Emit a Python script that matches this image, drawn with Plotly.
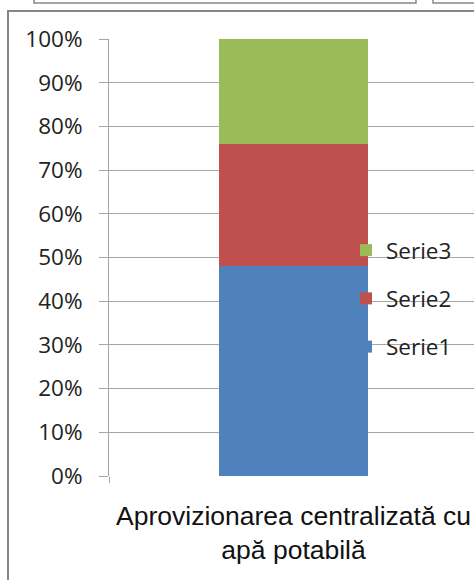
import plotly.graph_objects as go

# data
categories = ["Aprovizionarea centralizată cu<br>apă potabilă"]
serie1 = [0.48]
serie2 = [0.28]
serie3 = [0.24]

series_names = ["Serie1", "Serie2", "Serie3"]
series_values = [serie1, serie2, serie3]
colors = ["#4F81BD", "#C0504D", "#9BBB59"]

tick_vals = [i / 10 for i in range(11)]
tick_text = [f"{i * 10}%" for i in range(11)]

FONT = "Open Sans"
LABEL_FONT = "Liberation Sans"
W, H = 474, 580
L, R, T, B = 109, 0, 39, 104


def px_x(p):
    return (p - L) / (W - L - R)


def px_y(p):
    return (H - B - p) / (H - B - T)


fig = go.Figure()
for i, (name, vals) in enumerate(zip(series_names, series_values)):
    fig.add_trace(go.Bar(
        x=categories, y=vals, name=name,
        marker=dict(color=colors[i], line=dict(width=0)),
        legendgroup=name, legendrank=len(series_names) - i,
    ))

fig.update_layout(
    width=W, height=H,
    margin=dict(l=L, r=R, t=T, b=B),
    barmode="stack", bargap=0.596,
    paper_bgcolor="white", plot_bgcolor="white",
    font=dict(family=FONT, size=22.5, color="#222222"),
    showlegend=True,
    legend=dict(
        x=px_x(346), y=px_y(229), xanchor="left", yanchor="top",
        bgcolor="rgba(0,0,0,0)", traceorder="grouped",
        tracegroupgap=16, font=dict(size=22.5, family=FONT, color="#222222"),
    ),
    xaxis=dict(
        range=[-0.5, 0.489], showgrid=False, showline=False,
        ticks="outside", tickson="boundaries", ticklen=6, tickcolor="#a6a6a6",
        ticklabelstandoff=21,
        tickfont=dict(size=26.5, family=LABEL_FONT, color="#111111"),
        fixedrange=True,
    ),
    yaxis=dict(
        range=[0, 1], tickvals=tick_vals, ticktext=tick_text,
        showgrid=True, gridcolor="#a6a6a6", gridwidth=1,
        showline=True, linecolor="#a6a6a6", linewidth=1,
        ticks="outside", ticklen=9, tickcolor="#a6a6a6",
        ticklabelstandoff=12,
        tickfont=dict(size=22.5, family=FONT, color="#222222"),
        zeroline=False,
    ),
)

# outer chart border and neighbouring chart frames
fig.add_shape(type="rect", xref="paper", yref="paper",
              x0=px_x(8), x1=px_x(700), y0=px_y(11), y1=px_y(800),
              line=dict(color="#868686", width=2), fillcolor="rgba(0,0,0,0)", layer="above")
fig.add_shape(type="rect", xref="paper", yref="paper",
              x0=px_x(34), x1=px_x(416), y0=px_y(3), y1=px_y(-40),
              line=dict(color="#868686", width=1.5), fillcolor="rgba(0,0,0,0)", layer="above")
fig.add_shape(type="rect", xref="paper", yref="paper",
              x0=px_x(433), x1=px_x(700), y0=px_y(3), y1=px_y(-40),
              line=dict(color="#868686", width=1.5), fillcolor="rgba(0,0,0,0)", layer="above")

fig.write_html("out.html", config={"displayModeBar": False},
               post_script="document.body.style.margin='0';document.body.style.overflow='hidden';")
